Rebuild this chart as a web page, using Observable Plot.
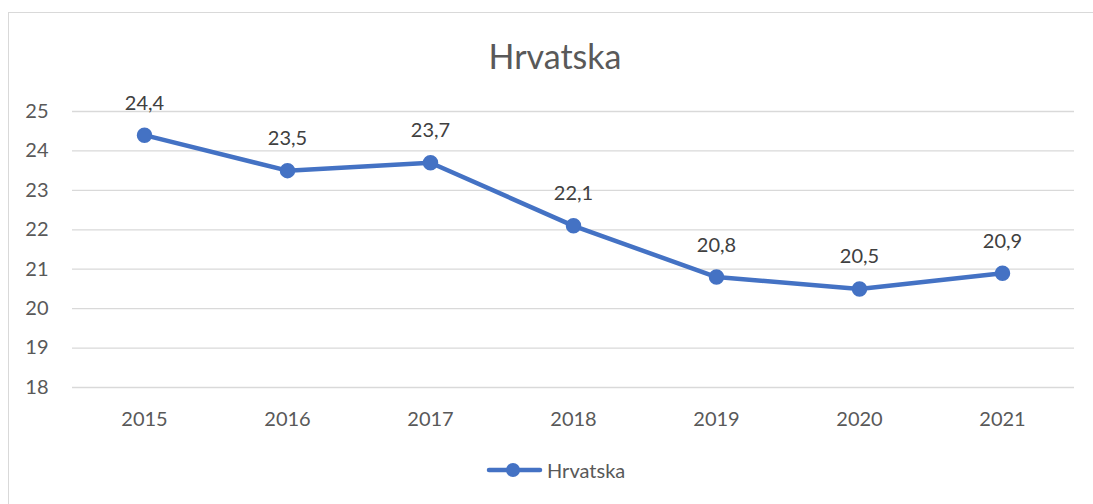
<!DOCTYPE html>
<html>
<head>
<meta charset="utf-8">
<script src="https://cdn.jsdelivr.net/npm/d3@7"></script>
<script src="https://cdn.jsdelivr.net/npm/@observablehq/plot@0.6"></script>
<style>
  html, body { margin: 0; padding: 0; background: #fff; overflow: hidden; }
  body { width: 1093px; height: 504px; position: relative; font-family: Lato, "Open Sans", sans-serif; }
  #frame { position: absolute; left: 8px; top: 12px; width: 1100px; height: 500px; border: 1px solid #d9d9d9; box-sizing: border-box; }
  #title { position: absolute; left: 0; width: 1110px; top: 35px; text-align: center; font-size: 34px; line-height: 42px; color: #595959; }
  #chart { position: absolute; left: 0; top: 0; }
  #legend { position: absolute; left: 485px; top: 457px; display: flex; align-items: center; font-size: 20px; color: #595959; }
</style>
</head>
<body>
<div id="frame"></div>
<div id="title">Hrvatska</div>
<div id="chart"></div>
<div id="legend"></div>
<script>
const years = ["2015", "2016", "2017", "2018", "2019", "2020", "2021"];
const values = [24.4, 23.5, 23.7, 22.1, 20.8, 20.5, 20.9];
const yTicks = [18, 19, 20, 21, 22, 23, 24, 25];
const seriesName = "Hrvatska";

const data = years.map((y, i) => ({year: y, value: values[i]}));
const color = "#4472C4";
const fmt = v => v.toFixed(1).replace(".", ",");

const plot = Plot.plot({
  width: 1093,
  height: 430,
  marginLeft: 72,
  marginRight: 19,
  marginTop: 111,
  marginBottom: 43,
  style: {fontFamily: "Lato, 'Open Sans', sans-serif", fontSize: "20px", color: "#595959", background: "transparent"},
  x: {type: "point", domain: years, padding: 0.5, label: null},
  y: {domain: [18, 25], label: null},
  marks: [
    Plot.ruleY(yTicks, {stroke: "#d9d9d9", strokeWidth: 1.3}),
    Plot.axisY({ticks: yTicks, tickFormat: "d", tickSize: 0, tickPadding: 24, fontSize: 20, fill: "#595959", label: null}),
    Plot.axisX({tickSize: 0, tickPadding: 24, fontSize: 20, fill: "#595959", label: null}),
    Plot.line(data, {x: "year", y: "value", stroke: color, strokeWidth: 4.5, strokeLinejoin: "round", strokeLinecap: "round"}),
    Plot.dot(data, {x: "year", y: "value", r: 7, fill: color, stroke: color}),
    Plot.text(data, {x: "year", y: "value", text: d => fmt(d.value), dy: -32, fontSize: 20, fill: "#404040"})
  ]
});
document.getElementById("chart").appendChild(plot);

// legend
const leg = document.getElementById("legend");
const ns = "http://www.w3.org/2000/svg";
const svg = document.createElementNS(ns, "svg");
svg.setAttribute("width", 62);
svg.setAttribute("height", 26);
const ln = document.createElementNS(ns, "line");
ln.setAttribute("x1", 4); ln.setAttribute("x2", 55); ln.setAttribute("y1", 13); ln.setAttribute("y2", 13);
ln.setAttribute("stroke", color); ln.setAttribute("stroke-width", 4.5); ln.setAttribute("stroke-linecap", "round");
svg.appendChild(ln);
const c = document.createElementNS(ns, "circle");
c.setAttribute("cx", 28); c.setAttribute("cy", 13); c.setAttribute("r", 7); c.setAttribute("fill", color);
svg.appendChild(c);
leg.appendChild(svg);
const sp = document.createElement("span");
sp.textContent = seriesName;
leg.appendChild(sp);
</script>
</body>
</html>
